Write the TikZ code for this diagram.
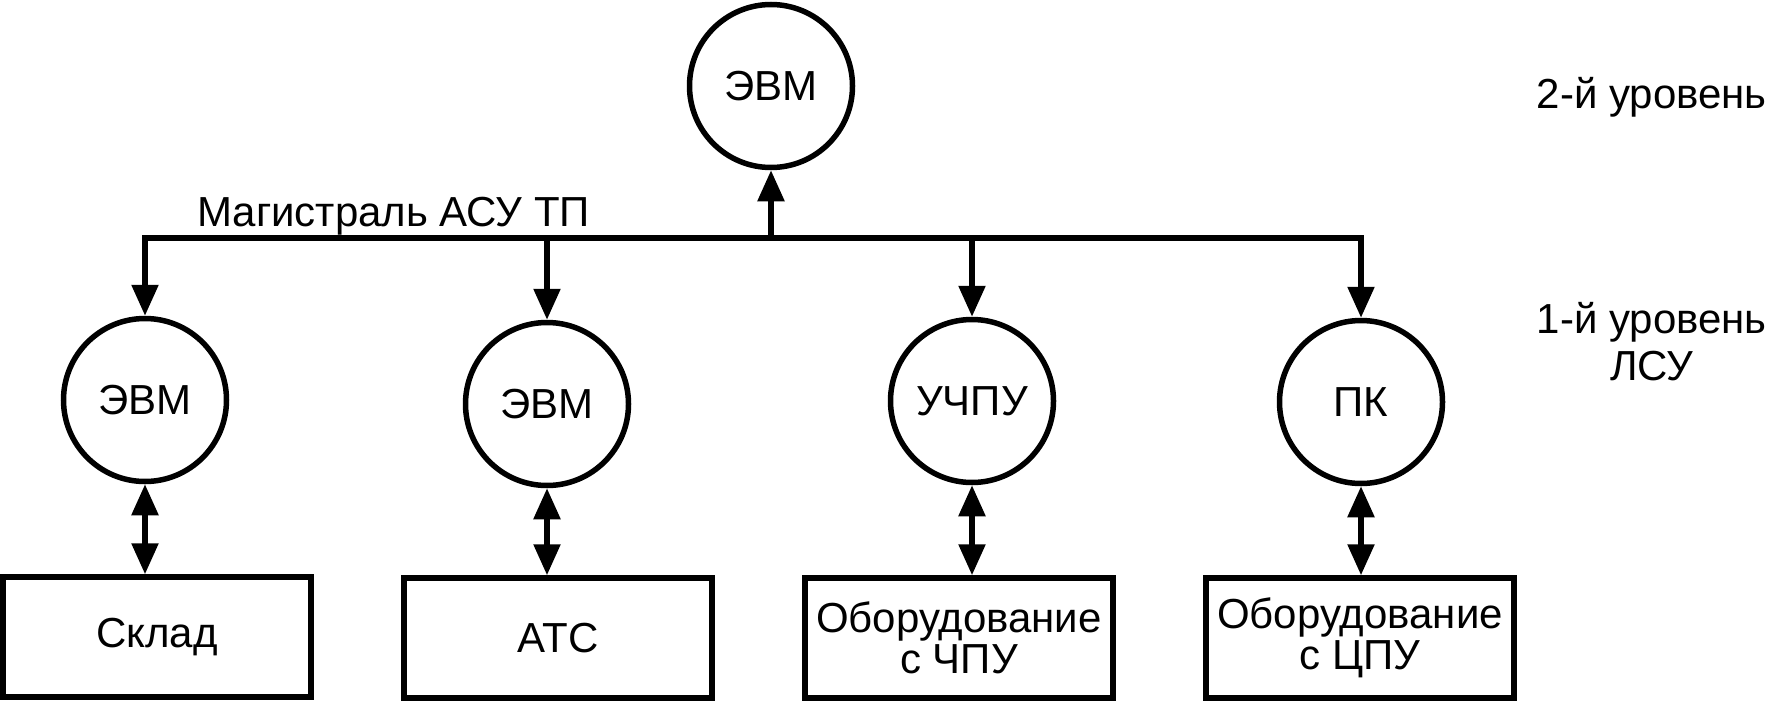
\documentclass[tikz,border=0pt]{standalone}
\usepackage{fontspec}
\setmainfont{Liberation Sans}
\usetikzlibrary{arrows.meta}
\begin{document}
\begin{tikzpicture}[x=1pt,y=-1pt,
  every node/.style={font=\fontsize{42}{41}\selectfont},
  unit/.style={draw, circle, line width=5.5pt, minimum size=163pt, inner sep=0pt},
  obj/.style={draw, rectangle, line width=5.5pt, minimum width=308pt, minimum height=120pt, inner sep=0pt, align=center},
  link/.style={line width=5.5pt, line join=miter, -{Triangle[length=31pt,width=26pt]}},
  dlink/.style={line width=5.5pt, {Triangle[length=31pt,width=26pt]}-{Triangle[length=31pt,width=26pt]}},
  lab/.style={inner sep=0pt, align=center}]
\useasboundingbox (0,0) rectangle (1769,701);
% top level
\node[unit] (top) at (771,86) {ЭВМ};
% level 1
\node[unit] (c1) at (145,400) {ЭВМ};
\node[unit] (c2) at (547,404) {ЭВМ};
\node[unit] (c3) at (972,401) {УЧПУ};
\node[unit] (c4) at (1361,402) {ПК};
% objects
\node[obj] (s1) at (157,637) {Склад};
\node[obj] (s2) at (558,638) {АТС};
\node[obj] (s3) at (959,638) {Оборудование\\с ЧПУ};
\node[obj] (s4) at (1360,638) {Оборудование\\с ЦПУ};
% bus
\coordinate (bus) at (0,238);
\draw[dlink, line join=miter] (c1.north) -- (c1.north |- bus) -- (c4.north |- bus) -- (c4.north);
\draw[link] (c2.north |- bus) -- (c2.north);
\draw[link] (c3.north |- bus) -- (c3.north);
\draw[link] (top.south |- bus) -- (top.south);
\node[lab, anchor=base west] (bl) at (197,226) {Магистраль АСУ ТП};
% vertical links
\draw[dlink] (c1.south) -- (c1.south |- s1.north);
\draw[dlink] (c2.south) -- (c2.south |- s2.north);
\draw[dlink] (c3.south) -- (c3.south |- s3.north);
\draw[dlink] (c4.south) -- (c4.south |- s4.north);
% level labels
\node[lab, anchor=base east] (l2) at (1767,108) {2-й уровень};
\node[lab, anchor=base east, font=\fontsize{42}{47}\selectfont] (l1) at (1767,380) {1-й уровень\\ЛСУ};
\end{tikzpicture}
\end{document}
